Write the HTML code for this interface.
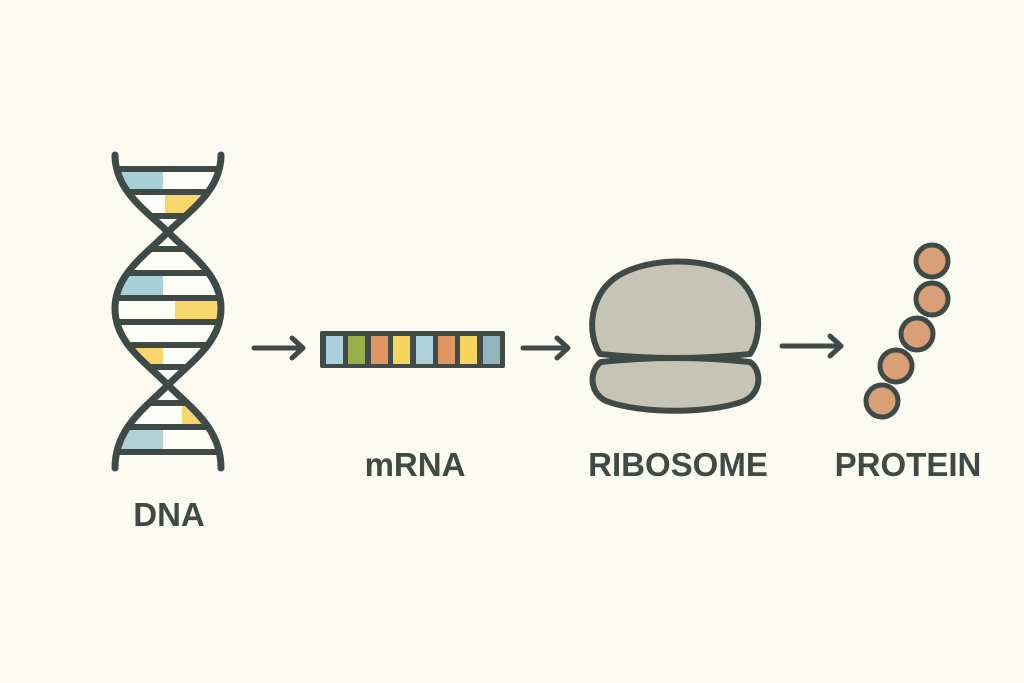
<!DOCTYPE html>
<html><head><meta charset="utf-8"><style>
html,body{margin:0;padding:0;background:#fcfbf2;}
svg{display:block}
</style></head><body>
<svg width="1024" height="683" viewBox="0 0 1024 683" xmlns="http://www.w3.org/2000/svg">
<rect width="1024" height="683" fill="#fcfbf2"/>
<defs>
<clipPath id="dna">
<path d="M115,155 C115,190 145,210 168,232 C192,256 221,275 221,308.5 C221,342 192,361 168,385 C145,408 115,428 115,468 L221,468 C221,428 191,408 168,385 C144,361 115,342 115,308.5 C115,275 144,256 168,232 C191,210 221,190 221,155 Z"/>
</clipPath>
</defs>
<g clip-path="url(#dna)">
<rect x="100" y="166" width="140" height="290" fill="#fffffa"/>
<rect x="100" y="169" width="63" height="23" fill="#a9d0d8"/>
<rect x="165" y="192" width="70" height="24" fill="#f7d66b"/>
<rect x="100" y="273" width="63" height="25" fill="#a9d0d8"/>
<rect x="175" y="298" width="60" height="24" fill="#f7d66b"/>
<rect x="100" y="345" width="63" height="22" fill="#f7d66b"/>
<rect x="182" y="403" width="50" height="24" fill="#f7d66b"/>
<rect x="100" y="427" width="63" height="25" fill="#b3cfd6"/>
<g stroke="#3f4a47" stroke-width="6">
<line x1="100" y1="169" x2="240" y2="169"/>
<line x1="100" y1="192" x2="240" y2="192"/>
<line x1="100" y1="216" x2="240" y2="216"/>
<line x1="100" y1="249" x2="240" y2="249"/>
<line x1="100" y1="273" x2="240" y2="273"/>
<line x1="100" y1="298" x2="240" y2="298"/>
<line x1="100" y1="322" x2="240" y2="322"/>
<line x1="100" y1="345" x2="240" y2="345"/>
<line x1="100" y1="367" x2="240" y2="367"/>
<line x1="100" y1="403" x2="240" y2="403"/>
<line x1="100" y1="427" x2="240" y2="427"/>
<line x1="100" y1="452" x2="240" y2="452"/>
</g>
</g>
<g fill="none" stroke="#3f4a47" stroke-width="7" stroke-linecap="round">
<path d="M115,155 C115,190 145,210 168,232 C192,256 221,275 221,308.5 C221,342 192,361 168,385 C145,408 115,428 115,468"/>
<path d="M221,155 C221,190 191,210 168,232 C144,256 115,275 115,308.5 C115,342 144,361 168,385 C191,408 221,428 221,468"/>
</g>
<g fill="none" stroke="#3f4a47" stroke-width="5" stroke-linecap="round" stroke-linejoin="round">
<line x1="254" y1="348" x2="302" y2="348"/><polyline points="292,338 303,348 292,358"/>
<line x1="523" y1="348" x2="567" y2="348"/><polyline points="557,338 568,348 557,358"/>
<line x1="782" y1="346" x2="840" y2="346"/><polyline points="830,336 841,346 830,356"/>
</g>
<rect x="320" y="331" width="185" height="37" rx="2" fill="#414b48"/>
<rect x="326" y="336" width="17" height="28" fill="#a9d0db"/>
<rect x="348" y="336" width="17" height="28" fill="#9aae4a"/>
<rect x="371" y="336" width="17" height="28" fill="#df9462"/>
<rect x="393" y="336" width="17" height="28" fill="#f7d45d"/>
<rect x="416" y="336" width="17" height="28" fill="#aed2dc"/>
<rect x="438" y="336" width="17" height="28" fill="#df9462"/>
<rect x="460" y="336" width="17" height="28" fill="#f7d45d"/>
<rect x="483" y="336" width="17" height="28" fill="#93b3bd"/>
<g fill="#c6c4b5" stroke="#3f4a47" stroke-width="6" stroke-linejoin="round">
<path d="M601,362 Q675,354 750,362 C762,370 762,393 744,401 C710,414 640,414 606,401 C589,393 589,370 601,362 Z"/>
<path d="M600,354 C587,334 590,300 610,282 C638,256 712,254 740,280 C761,300 763,335 750,354 Q675,362 600,354 Z"/>
</g>
<g fill="#d9a077" stroke="#3f4a47" stroke-width="5">
<circle cx="882" cy="401" r="16"/>
<circle cx="896" cy="366" r="16"/>
<circle cx="917" cy="334" r="16"/>
<circle cx="932" cy="299" r="16"/>
<circle cx="932" cy="261" r="16"/>
</g>
<g font-family="Liberation Sans, sans-serif" font-weight="bold" font-size="33" fill="#3f4a47" text-anchor="middle">
<text x="169" y="526">DNA</text>
<text x="415" y="476">mRNA</text>
<text x="678" y="476">RIBOSOME</text>
<text x="908" y="476">PROTEIN</text>
</g>
</svg>
</body></html>
